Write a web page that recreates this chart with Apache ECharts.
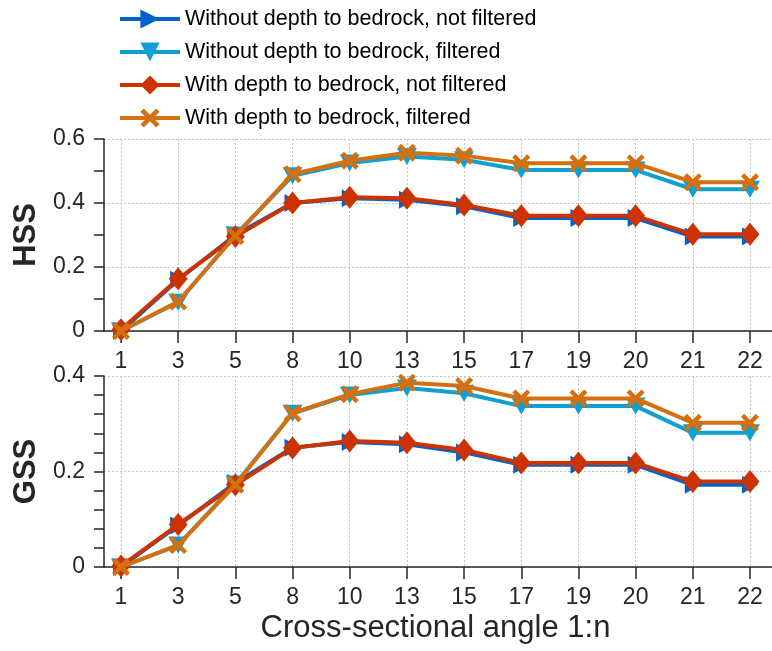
<!DOCTYPE html>
<html>
<head>
<meta charset="utf-8">
<script src="https://cdn.jsdelivr.net/npm/echarts@6/dist/echarts.min.js"></script>
<style>html,body{margin:0;padding:0;background:#fff}#c{width:772px;height:651px}</style>
</head>
<body>
<div id="c"></div>
<script>
var categories = ['1','3','5','8','10','13','15','17','19','20','21','22'];
var seriesNames = ['Without depth to bedrock, not filtered','Without depth to bedrock, filtered','With depth to bedrock, not filtered','With depth to bedrock, filtered'];
var hssWithoutNF = [0, 0.16, 0.30, 0.40, 0.415, 0.41, 0.39, 0.353, 0.353, 0.353, 0.295, 0.295];
var hssWithoutF  = [0, 0.09, 0.30, 0.485, 0.525, 0.545, 0.535, 0.503, 0.503, 0.503, 0.443, 0.443];
var hssWithNF    = [0.004, 0.163, 0.295, 0.40, 0.418, 0.415, 0.394, 0.36, 0.36, 0.36, 0.302, 0.302];
var hssWithF     = [0, 0.092, 0.297, 0.49, 0.532, 0.557, 0.548, 0.524, 0.524, 0.524, 0.465, 0.465];
var gssWithoutNF = [0, 0.087, 0.176, 0.25, 0.262, 0.257, 0.24, 0.214, 0.214, 0.214, 0.172, 0.172];
var gssWithoutF  = [0, 0.046, 0.174, 0.322, 0.36, 0.375, 0.364, 0.337, 0.337, 0.337, 0.281, 0.281];
var gssWithNF    = [0.002, 0.089, 0.172, 0.249, 0.264, 0.26, 0.245, 0.218, 0.218, 0.218, 0.179, 0.179];
var gssWithF     = [0, 0.046, 0.172, 0.322, 0.362, 0.386, 0.379, 0.353, 0.353, 0.353, 0.302, 0.302];
var hssTicks = {min: 0, max: 0.6, interval: 0.2, minorSplit: 2};
var gssTicks = {min: 0, max: 0.4, interval: 0.2, minorSplit: 5};

var FONT = '"Liberation Sans", Arial, Helvetica, sans-serif';
var AX = '#262626';
var GRIDC = '#c4c4c4';
var colors = ['#0063CC', '#0EA0D0', '#CC3300', '#D4700F'];
var xPath = 'path://M0,3.5 L3.5,0 L10,6.5 L16.5,0 L20,3.5 L13.5,10 L20,16.5 L16.5,20 L10,13.5 L3.5,20 L0,16.5 L6.5,10 Z';
var symbols = [
  {symbol: 'triangle', symbolRotate: -90, symbolSize: [18, 16]},
  {symbol: 'triangle', symbolRotate: 180, symbolSize: [20, 17]},
  {symbol: 'diamond', symbolRotate: 0, symbolSize: [19, 23]},
  {symbol: xPath, symbolRotate: 0, symbolSize: 18}
];

function outerX(gi) {
  return {type: 'value', gridIndex: gi, min: 0, max: 1,
    axisLine: {show: true, onZero: false, lineStyle: {color: AX, width: 1.5}},
    axisTick: {show: false}, axisLabel: {show: false}, splitLine: {show: false}};
}
function innerX(gi, withName) {
  var a = {type: 'category', gridIndex: gi, data: categories, boundaryGap: false,
    axisLine: {show: false},
    axisTick: {show: true, alignWithLabel: true, length: 12, lineStyle: {color: AX, width: 1.5}},
    axisLabel: {show: true, color: AX, fontSize: 23, fontFamily: FONT, margin: 19, interval: 0},
    splitLine: {show: true, interval: 0, lineStyle: {color: GRIDC, type: [2, 2], width: 1}}};
  if (withName) {
    a.name = 'Cross-sectional angle 1:n';
    a.nameLocation = 'middle';
    a.nameGap = 46;
    a.nameTextStyle = {color: AX, fontSize: 31, fontFamily: FONT, verticalAlign: 'top'};
  }
  return a;
}
function outerY(gi, t, name) {
  return {type: 'value', gridIndex: gi, min: t.min, max: t.max, interval: t.interval,
    name: name, nameLocation: 'middle', nameGap: 62,
    nameTextStyle: {color: AX, fontSize: 31, fontWeight: 'bold', fontFamily: FONT},
    axisLine: {show: true, onZero: false, lineStyle: {color: AX, width: 1.5}},
    axisTick: {show: true, length: 10, lineStyle: {color: AX, width: 1.5}},
    minorTick: {show: true, splitNumber: t.minorSplit, length: 10, lineStyle: {color: AX, width: 1.5}},
    axisLabel: {color: AX, fontSize: 23, fontFamily: FONT, margin: 19},
    splitLine: {show: true, lineStyle: {color: GRIDC, type: [2, 2], width: 1}}};
}
function innerY(gi, t) {
  return {type: 'value', gridIndex: gi, min: t.min, max: t.max, interval: t.interval,
    axisLine: {show: false}, axisTick: {show: false}, axisLabel: {show: false}, splitLine: {show: false}};
}
function mk(i, data, axisIdx) {
  var s = symbols[i];
  return {name: seriesNames[i], type: 'line', xAxisIndex: axisIdx, yAxisIndex: axisIdx,
    data: data, symbol: s.symbol, symbolRotate: s.symbolRotate, symbolSize: s.symbolSize,
    showSymbol: true, showAllSymbol: true, animation: false, z: 3 + i,
    lineStyle: {color: colors[i], width: 4},
    itemStyle: {color: colors[i], borderWidth: 0}};
}

var chart = echarts.init(document.getElementById('c'), null, {renderer: 'canvas'});
chart.setOption({
  animation: false,
  color: colors,
  textStyle: {fontFamily: FONT},
  legend: {
    data: seriesNames, orient: 'vertical', left: 118, top: 7, padding: 0,
    itemWidth: 60, itemHeight: 24, itemGap: 9, itemTextGap: 7,
    lineStyle: {width: 4},
    textStyle: {color: '#000', fontSize: 21.5, fontFamily: FONT, lineHeight: 24},
    selectedMode: false
  },
  grid: [
    {left: 104, top: 139, width: 668, height: 192},
    {left: 121, top: 139, width: 629, height: 192},
    {left: 104, top: 376, width: 668, height: 191},
    {left: 121, top: 376, width: 629, height: 191}
  ],
  xAxis: [outerX(0), innerX(1, false), outerX(2), innerX(3, true)],
  yAxis: [outerY(0, hssTicks, 'HSS'), innerY(1, hssTicks), outerY(2, gssTicks, 'GSS'), innerY(3, gssTicks)],
  series: [
    mk(0, hssWithoutNF, 1), mk(1, hssWithoutF, 1), mk(2, hssWithNF, 1), mk(3, hssWithF, 1),
    mk(0, gssWithoutNF, 3), mk(1, gssWithoutF, 3), mk(2, gssWithNF, 3), mk(3, gssWithF, 3)
  ]
});
</script>
</body>
</html>
